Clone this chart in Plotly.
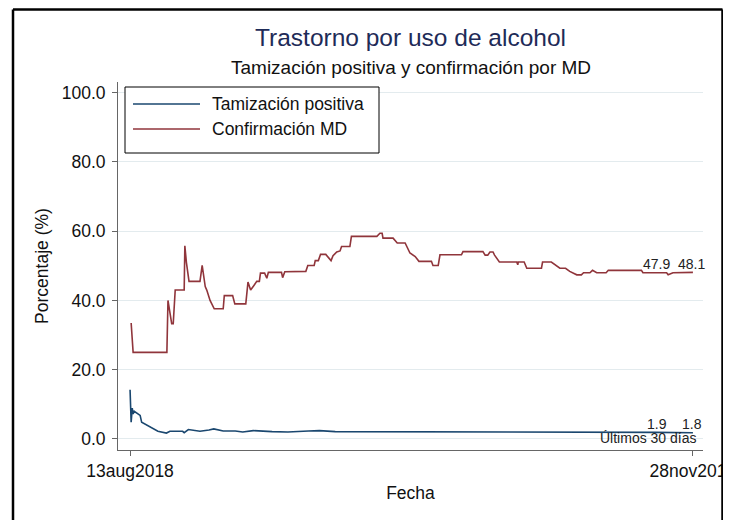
import plotly.graph_objects as go

FONT = "Liberation Sans, Arial, sans-serif"

# ---- data ----
fechas_conf = [
    "2018-08-13 05:00", "2018-08-13 14:00", "2018-08-20 00:00", "2018-08-20 05:00",
    "2018-08-20 22:00", "2018-08-21 05:00", "2018-08-21 14:00", "2018-08-23 07:00",
    "2018-08-23 10:00", "2018-08-23 17:00", "2018-08-24 05:00", "2018-08-26 07:00",
    "2018-08-26 17:00", "2018-08-27 07:00", "2018-08-27 14:00", "2018-08-28 05:00",
    "2018-08-29 00:00", "2018-08-30 17:00", "2018-08-30 22:00", "2018-09-01 12:00",
    "2018-09-01 22:00", "2018-09-04 00:00", "2018-09-04 10:00", "2018-09-04 22:00",
    "2018-09-05 14:00", "2018-09-06 02:00", "2018-09-06 14:00", "2018-09-06 19:00",
    "2018-09-07 14:00", "2018-09-08 00:00", "2018-09-08 07:00", "2018-09-10 19:00",
    "2018-09-11 00:00", "2018-09-11 10:00", "2018-09-15 10:00", "2018-09-15 19:00",
    "2018-09-17 00:00", "2018-09-17 05:00", "2018-09-17 19:00", "2018-09-18 05:00",
    "2018-09-19 05:00", "2018-09-20 05:00", "2018-09-20 14:00", "2018-09-21 07:00",
    "2018-09-21 22:00", "2018-09-22 05:00", "2018-09-23 19:00", "2018-09-24 02:00",
    "2018-09-28 22:00", "2018-09-29 12:00", "2018-09-29 22:00", "2018-09-30 02:00",
    "2018-10-02 00:00", "2018-10-02 19:00", "2018-10-04 07:00", "2018-10-04 17:00",
    "2018-10-05 05:00", "2018-10-06 05:00", "2018-10-06 22:00", "2018-10-09 07:00",
    "2018-10-09 14:00", "2018-10-10 14:00", "2018-10-10 22:00", "2018-10-15 00:00",
    "2018-10-15 07:00", "2018-10-19 02:00", "2018-10-19 12:00", "2018-10-20 00:00",
    "2018-10-20 10:00", "2018-10-21 00:00", "2018-10-21 07:00", "2018-10-22 05:00",
    "2018-10-25 12:00", "2018-10-25 17:00", "2018-10-25 19:00", "2018-10-26 22:00",
    "2018-10-27 10:00", "2018-10-30 05:00", "2018-10-30 10:00", "2018-11-01 02:00",
    "2018-11-02 17:00", "2018-11-03 19:00", "2018-11-04 14:00", "2018-11-05 22:00",
    "2018-11-06 19:00", "2018-11-07 05:00", "2018-11-08 10:00", "2018-11-08 22:00",
    "2018-11-09 17:00", "2018-11-11 12:00", "2018-11-11 22:00", "2018-11-18 05:00",
    "2018-11-18 12:00", "2018-11-23 00:00", "2018-11-23 07:00", "2018-11-24 05:00",
    "2018-11-28 00:00",
]
confirmacion_md = [
    33.5, 25.0, 25.0, 40.0, 33.3, 33.3, 43.0, 43.0,
    55.8, 51.0, 45.5, 45.5, 50.1, 44.0, 43.0, 40.0,
    37.6, 37.6, 41.4, 41.4, 39.0, 39.0, 45.3, 43.0,
    44.4, 45.5, 45.5, 47.9, 47.9, 46.4, 48.1, 48.1,
    46.6, 48.3, 48.4, 50.1, 50.1, 51.5, 51.5, 53.3,
    53.3, 51.5, 52.9, 54.0, 54.3, 55.6, 55.6, 58.5,
    58.5, 59.4, 59.4, 58.0, 58.0, 56.6, 56.6, 55.1,
    53.7, 52.7, 51.3, 51.3, 50.1, 50.1, 53.2, 53.2,
    54.1, 54.1, 53.1, 53.1, 54.0, 54.0, 53.1, 51.1,
    51.1, 50.3, 51.1, 51.1, 49.3, 49.3, 51.1, 51.1,
    49.3, 49.3, 48.4, 47.4, 47.4, 48.0, 48.0, 48.7,
    48.0, 48.0, 48.7, 48.7, 48.0, 48.0, 47.4, 48.0,
    48.1,
]

fechas_tam = [
    "2018-08-13 00:00", "2018-08-13 05:00", "2018-08-13 10:00", "2018-08-13 14:00",
    "2018-08-13 19:00", "2018-08-14 22:00", "2018-08-15 05:00", "2018-08-16 02:00",
    "2018-08-17 02:00", "2018-08-18 07:00", "2018-08-19 22:00", "2018-08-20 14:00",
    "2018-08-23 00:00", "2018-08-23 07:00", "2018-08-24 02:00", "2018-08-26 07:00",
    "2018-08-28 00:00", "2018-08-28 22:00", "2018-08-30 17:00", "2018-09-02 00:00",
    "2018-09-03 10:00", "2018-09-05 10:00", "2018-09-09 00:00", "2018-09-12 00:00",
    "2018-09-15 22:00", "2018-09-18 00:00", "2018-09-21 00:00", "2018-09-27 00:00",
    "2018-10-02 00:00", "2018-10-07 00:00", "2018-10-12 00:00", "2018-10-17 00:00",
    "2018-10-22 00:00", "2018-10-27 00:00", "2018-11-01 00:00", "2018-11-06 00:00",
    "2018-11-11 00:00", "2018-11-16 00:00", "2018-11-21 00:00", "2018-11-28 00:00",
]
tamizacion_positiva = [
    14.2, 4.8, 8.9, 7.2, 8.0, 6.8, 4.8, 4.1,
    3.2, 2.2, 1.7, 2.2, 2.2, 1.8, 2.7, 2.2,
    2.6, 2.9, 2.3, 2.3, 2.0, 2.4, 2.1, 2.0,
    2.3, 2.4, 2.1, 2.1, 1.9, 2.0, 2.0, 1.9,
    2.1, 2.0, 2.0, 1.9, 2.0, 2.0, 1.9, 1.8,
]

y_ticks = [0, 20, 40, 60, 80, 100]
x_ticks = ["2018-08-13", "2018-11-28"]
x_tick_labels = ["13aug2018", "28nov2018"]

series_names = ["Tamización positiva", "Confirmación MD"]
series_colors = ["#1a476f", "#90353b"]

# value labels: (x date, text)
label_x = ["2018-11-21 04:00", "2018-11-27 19:00"]
conf_labels = ["47.9", "48.1"]
tam_labels = ["1.9", "1.8"]

# ---- figure ----
fig = go.Figure()
fig.add_trace(go.Scatter(x=fechas_tam, y=tamizacion_positiva, mode="lines",
                         name=series_names[0],
                         line=dict(color=series_colors[0], width=1.6)))
fig.add_trace(go.Scatter(x=fechas_conf, y=confirmacion_md, mode="lines",
                         name=series_names[1],
                         line=dict(color=series_colors[1], width=1.6)))

# the page body has an 8px margin; target layout measured in window pixels
OFF = 8
W, H = 731 - OFF, 520 - OFF
L, T = 118 - OFF, 82 - OFF
R = W - (703 - OFF)
B = H - (450 - OFF)
pw, ph = W - L - R, H - T - B


def px(xp):
    return (xp - OFF - L) / pw


def py(yp):
    return (H - B - (yp - OFF)) / ph


annotations = []
for xv, t in zip(label_x, conf_labels):
    annotations.append(dict(x=xv, y=50.6, xref="x", yref="y", text=t, showarrow=False,
                            font=dict(size=14, color="#222"), xanchor="center", yanchor="middle"))
for xv, t in zip(label_x, tam_labels):
    annotations.append(dict(x=xv, y=4.4, xref="x", yref="y", text=t, showarrow=False,
                            font=dict(size=14, color="#222"), xanchor="center", yanchor="middle"))
annotations.append(dict(x="2018-11-19 10:00", y=0.4, xref="x", yref="y", text="Últimos 30 días",
                        showarrow=False, font=dict(size=14, color="#222"),
                        xanchor="center", yanchor="middle"))

# titles
annotations.append(dict(x=0.5, y=py(38), xref="paper", yref="paper",
                        text="Trastorno por uso de alcohol", showarrow=False,
                        font=dict(size=24.5, color="#1e2b58"), xanchor="center", yanchor="middle"))
annotations.append(dict(x=0.5, y=py(67), xref="paper", yref="paper",
                        text="Tamización positiva y confirmación por MD", showarrow=False,
                        font=dict(size=19, color="#111"), xanchor="center", yanchor="middle"))

# legend (box drawn in the plot's top-left corner)
shapes = []
shapes.append(dict(type="rect", xref="paper", yref="paper",
                   x0=px(125), x1=px(379), y0=py(153), y1=py(87),
                   line=dict(color="black", width=1), fillcolor="white", layer="above"))
for i, (nm, col) in enumerate(zip(series_names, series_colors)):
    yy = py(104 + 25 * i)
    shapes.append(dict(type="line", xref="paper", yref="paper",
                       x0=px(133), x1=px(200), y0=yy, y1=yy,
                       line=dict(color=col, width=1.6), layer="above"))
    annotations.append(dict(x=px(210), y=yy, xref="paper", yref="paper", text=nm,
                            showarrow=False, font=dict(size=17.5, color="#111"),
                            xanchor="left", yanchor="middle"))

# outer frame (top edge kept just inside the drawable area)
fx0, fx1, fy1, fy0 = px(13), px(722.5), py(9.6), py(545)
for (a, b, c, d) in [(fx0, fy0, fx0, fy1), (fx0, fy1, fx1, fy1), (fx1, fy1, fx1, fy0)]:
    shapes.append(dict(type="line", xref="paper", yref="paper", x0=a, y0=b, x1=c, y1=d,
                       line=dict(color="black", width=2.5), layer="above"))

fig.update_layout(
    width=W, height=H,
    margin=dict(l=L, r=R, t=T, b=B, pad=0),
    paper_bgcolor="white", plot_bgcolor="white",
    font=dict(family=FONT, size=17.5, color="#111"),
    showlegend=False,
    annotations=annotations,
    shapes=shapes,
)

fig.update_xaxes(
    range=["2018-08-10 17:00", "2018-11-29 22:00"],
    tickmode="array", tickvals=x_ticks, ticktext=x_tick_labels,
    ticks="outside", ticklen=5, tickcolor="#666",
    ticklabeloverflow="allow",
    showline=True, linecolor="#666", linewidth=1,
    showgrid=False, zeroline=False,
    title=dict(text="Fecha", font=dict(size=17.5), standoff=6),
    automargin=False,
)
fig.update_yaxes(
    range=[-3.2, 103.1],
    tickmode="array", tickvals=y_ticks, tickformat=".1f",
    ticks="outside", ticklen=5, tickcolor="#666",
    ticklabelstandoff=3,
    showline=True, linecolor="#666", linewidth=1,
    showgrid=True, gridcolor="#e3ebee", gridwidth=1,
    zeroline=False,
    title=dict(text="Porcentaje (%)", font=dict(size=17.5), standoff=8),
    automargin=False,
)

fig.write_html("out.html")
